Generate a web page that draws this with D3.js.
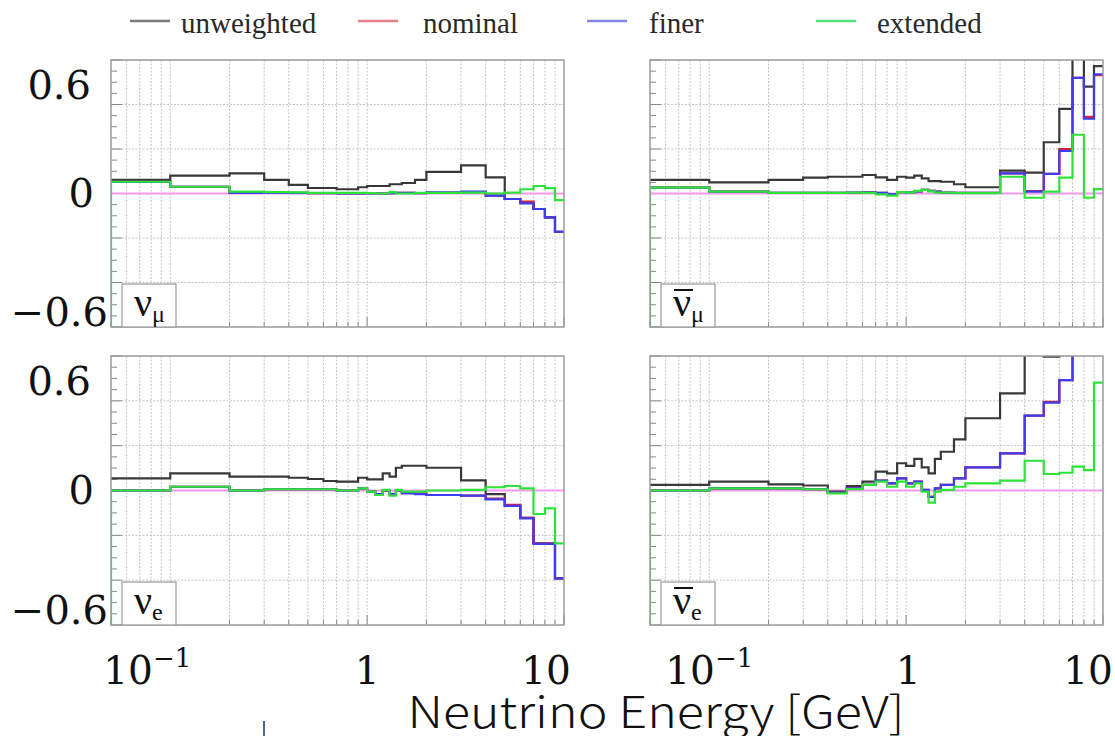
<!DOCTYPE html>
<html>
<head>
<meta charset="utf-8">
<script src="https://cdn.jsdelivr.net/npm/d3@7"></script>
<style>
body { margin: 0; background: #fff; }
</style>
</head>
<body>
<svg id="chart"></svg>
<script>
var screen = {width: 1115, height: 736};

// bin edges in GeV (shared by all histograms)
var edges = [0.05, 0.1, 0.2, 0.3, 0.4, 0.5, 0.6, 0.7, 0.8, 0.9, 1.0, 1.1, 1.2, 1.3, 1.4, 1.5, 1.75, 2.0, 3.0, 4.0, 5.0, 6.0, 7.0, 8.0, 9.0, 10.0];

var seriesNames = ["unweighted", "nominal", "finer", "extended"];
var lineColors = ["#383838", "#e0202e", "#3c3cf0", "#2fe23a"];
var legendColors = ["#7c7c7c", "#e87f8a", "#8686e2", "#57e07f"];

// numu
var numuUnweighted = [0.076, 0.100, 0.113, 0.076, 0.048, 0.031, 0.031, 0.024, 0.024, 0.035, 0.042, 0.042, 0.042, 0.052, 0.052, 0.059, 0.076, 0.121, 0.158, 0.091, -0.031, -0.050, -0.087, -0.134, -0.215];
var numuNominal    = [0.066, 0.038, 0.005, 0.003, 0.003, 0.002, 0.002, 0.001, 0.001, 0.000, 0.000, 0.000, 0.000, 0.002, 0.003, 0.003, 0.002, 0.004, 0.008, -0.012, -0.031, -0.045, -0.087, -0.134, -0.215];
var numuFiner      = [0.066, 0.038, 0.004, 0.003, 0.003, 0.002, 0.002, 0.001, 0.001, 0.000, 0.000, 0.000, 0.000, 0.002, 0.004, 0.004, 0.002, 0.006, 0.010, -0.012, -0.031, -0.055, -0.087, -0.134, -0.215];
var numuExtended   = [0.066, 0.038, 0.010, 0.008, 0.006, 0.004, 0.004, 0.003, 0.003, 0.003, 0.002, 0.000, 0.000, 0.008, 0.000, 0.000, 0.003, 0.003, 0.005, 0.000, 0.005, 0.024, 0.042, 0.030, -0.037];

// numubar
var numubarUnweighted = [0.076, 0.063, 0.076, 0.089, 0.094, 0.094, 0.104, 0.091, 0.076, 0.094, 0.089, 0.100, 0.085, 0.070, 0.070, 0.066, 0.052, 0.035, 0.128, 0.117, 0.288, 0.475, 0.900, 0.600, 0.716];
var numubarNominal    = [0.033, 0.010, 0.004, 0.003, 0.004, 0.005, 0.006, 0.004, -0.004, 0.008, 0.005, 0.012, 0.020, 0.015, 0.010, 0.005, 0.003, 0.004, 0.113, 0.014, 0.110, 0.250, 0.650, 0.430, 0.665];
var numubarFiner      = [0.033, 0.010, 0.004, 0.003, 0.004, 0.005, 0.006, 0.004, -0.004, 0.008, 0.005, 0.012, 0.020, 0.015, 0.010, 0.005, 0.003, 0.004, 0.113, 0.010, 0.110, 0.240, 0.650, 0.420, 0.670];
var numubarExtended   = [0.033, 0.010, 0.004, 0.003, 0.004, 0.005, 0.003, -0.005, -0.012, 0.008, 0.005, 0.015, 0.020, 0.012, 0.005, 0.005, 0.002, 0.002, 0.094, -0.024, 0.010, 0.089, 0.330, -0.024, 0.025];

// nue
var nueUnweighted = [0.068, 0.096, 0.077, 0.077, 0.071, 0.064, 0.053, 0.049, 0.049, 0.071, 0.062, 0.062, 0.096, 0.077, 0.127, 0.138, 0.138, 0.127, 0.056, -0.020, -0.086, -0.152, -0.295, -0.295, -0.490];
var nueNominal    = [0.000, 0.021, 0.000, 0.007, 0.007, 0.007, 0.007, 0.000, 0.000, 0.012, -0.006, -0.020, 0.000, -0.020, 0.000, -0.012, -0.016, -0.025, -0.029, -0.045, -0.080, -0.152, -0.295, -0.295, -0.490];
var nueFiner      = [0.000, 0.021, 0.000, 0.007, 0.007, 0.007, 0.007, 0.000, 0.000, 0.012, -0.006, -0.020, 0.000, -0.020, 0.000, -0.016, -0.020, -0.025, -0.029, -0.050, -0.086, -0.155, -0.298, -0.298, -0.490];
var nueExtended   = [0.000, 0.021, 0.000, 0.007, 0.007, 0.007, 0.007, 0.000, 0.000, 0.012, -0.006, -0.025, 0.004, -0.029, 0.004, -0.006, -0.006, 0.000, 0.004, 0.018, 0.025, 0.012, -0.131, -0.100, -0.295];

// nuebar
var nuebarUnweighted = [0.031, 0.049, 0.034, 0.028, -0.006, 0.025, 0.049, 0.105, 0.096, 0.152, 0.137, 0.176, 0.129, 0.096, 0.176, 0.216, 0.285, 0.403, 0.542, 0.756, 0.746, 0.900, 0.900, 0.900, 0.900];
var nuebarNominal    = [0.000, 0.012, 0.012, 0.007, -0.012, 0.012, 0.031, 0.055, 0.040, 0.068, 0.040, 0.050, 0.003, -0.035, 0.012, 0.031, 0.068, 0.129, 0.207, 0.417, 0.495, 0.616, 0.900, 0.900, 0.900];
var nuebarFiner      = [0.000, 0.012, 0.012, 0.007, -0.012, 0.012, 0.031, 0.055, 0.040, 0.068, 0.040, 0.050, 0.003, -0.035, 0.012, 0.031, 0.068, 0.129, 0.207, 0.417, 0.490, 0.616, 0.900, 0.900, 0.900];
var nuebarExtended   = [0.000, 0.012, 0.012, 0.007, -0.016, 0.008, 0.031, 0.050, 0.021, 0.050, 0.021, 0.040, -0.006, -0.068, -0.006, 0.003, 0.021, 0.040, 0.055, 0.166, 0.092, 0.099, 0.133, 0.114, 0.601];

// value drawn below the first edge (extended histograms start from the underflow)
var underflow = [null, null, null, -1];

var yTickValues = [0.6, 0, -0.6];
var yTickText = ["0.6", "0", "\u22120.6"];
var xTickValues = [0.1, 1, 10];

var panelList = [
    {flavour: "\u03bd", sub: "\u03bc", bar: false, left: 111, right: 564, top: 60, bottom: 327,
     data: [numuUnweighted, numuNominal, numuFiner, numuExtended]},
    {flavour: "\u03bd", sub: "\u03bc", bar: true, left: 650, right: 1103, top: 60, bottom: 327,
     data: [numubarUnweighted, numubarNominal, numubarFiner, numubarExtended]},
    {flavour: "\u03bd", sub: "e", bar: false, left: 111, right: 564, top: 356, bottom: 625,
     data: [nueUnweighted, nueNominal, nueFiner, nueExtended]},
    {flavour: "\u03bd", sub: "e", bar: true, left: 650, right: 1103, top: 356, bottom: 625,
     data: [nuebarUnweighted, nuebarNominal, nuebarFiner, nuebarExtended]}
];

var svg = d3.select("#chart")
    .attr("width", screen.width)
    .attr("height", screen.height)
    .style("background", "#fff");

var gridColor = "#c4c4c4";
var frameColor = "#9a9a9a";

panelList.forEach(function(p, k)
{
    var xScale = d3.scaleLog().domain([0.05, 10]).range([p.left, p.right]);
    var yScale = d3.scaleLinear().domain([-0.75, 0.75]).range([p.bottom, p.top]);

    svg.append("clipPath").attr("id", "clip" + k)
        .append("rect")
        .attr("x", p.left).attr("y", p.top)
        .attr("width", p.right - p.left).attr("height", p.bottom - p.top);

    var g = svg.append("g").attr("class", "panel");

    g.append("rect")
        .attr("x", p.left).attr("y", p.top)
        .attr("width", p.right - p.left).attr("height", p.bottom - p.top)
        .attr("fill", "#fff");

    // grid
    var xGrid = xScale.ticks().filter(function(d) { return d > 0.0500001 && d < 9.99; });
    g.selectAll(".xgrid").data(xGrid).enter().append("line")
        .attr("x1", function(d) { return xScale(d); })
        .attr("x2", function(d) { return xScale(d); })
        .attr("y1", p.top).attr("y2", p.bottom)
        .attr("stroke", gridColor).attr("stroke-width", 1)
        .attr("stroke-dasharray", "2,1.5");

    g.selectAll(".ygrid").data([-0.5, -0.25, 0.25, 0.5]).enter().append("line")
        .attr("x1", p.left).attr("x2", p.right)
        .attr("y1", function(d) { return yScale(d); })
        .attr("y2", function(d) { return yScale(d); })
        .attr("stroke", gridColor).attr("stroke-width", 1)
        .attr("stroke-dasharray", "2,1.5");

    // left ticks
    var yMinor = d3.range(-12, 13).map(function(i) { return i * 0.0625; });
    g.selectAll(".ytick").data(yMinor).enter().append("line")
        .attr("x1", p.left)
        .attr("x2", function(d, i) { return p.left + (i % 4 == 0 ? 11 : 6); })
        .attr("y1", function(d) { return yScale(d); })
        .attr("y2", function(d) { return yScale(d); })
        .attr("stroke", "#888").attr("stroke-width", 1);

    // bottom ticks
    g.selectAll(".xtick").data(xScale.ticks()).enter().append("line")
        .attr("x1", function(d) { return xScale(d); })
        .attr("x2", function(d) { return xScale(d); })
        .attr("y1", p.bottom)
        .attr("y2", function(d) { return p.bottom - (xTickValues.indexOf(d) >= 0 ? 10 : 5); })
        .attr("stroke", "#888").attr("stroke-width", 1);

    // zero reference
    g.append("line")
        .attr("x1", p.left).attr("x2", p.right)
        .attr("y1", yScale(0)).attr("y2", yScale(0))
        .attr("stroke", "#f49af0").attr("stroke-width", 2);

    var line = d3.line()
        .x(function(d) { return xScale(d[0]); })
        .y(function(d) { return yScale(d[1]); })
        .curve(d3.curveStepAfter);

    var plot = g.append("g").attr("clip-path", "url(#clip" + k + ")");

    p.data.forEach(function(values, s)
    {
        var pts = edges.map(function(e, i) {
            return [e, values[Math.min(i, values.length - 1)]];
        });
        if (underflow[s] !== null) pts.unshift([edges[0], underflow[s]]);
        plot.append("path")
            .datum(pts)
            .attr("d", line)
            .attr("fill", "none")
            .attr("stroke", lineColors[s])
            .attr("stroke-width", 2.2)
            .attr("stroke-linejoin", "miter");
    });

    // frame
    g.append("rect")
        .attr("x", p.left).attr("y", p.top)
        .attr("width", p.right - p.left).attr("height", p.bottom - p.top)
        .attr("fill", "none")
        .attr("stroke", frameColor).attr("stroke-width", 1.5);

    // flavour label box
    var bx = p.left + 11, bw = 54, bh = 43;
    g.append("rect")
        .attr("x", bx).attr("y", p.bottom - bh)
        .attr("width", bw).attr("height", bh)
        .attr("fill", "#fff")
        .attr("stroke", "#999").attr("stroke-width", 1.2);
    var lab = g.append("text")
        .attr("x", bx + 12).attr("y", p.bottom - 11)
        .attr("font-family", "Liberation Serif, serif")
        .attr("font-size", 40)
        .attr("fill", "#111")
        .text(p.flavour);
    lab.append("tspan")
        .attr("font-size", 24)
        .attr("dy", 6)
        .text(p.sub);
    if (p.bar) {
        g.append("line")
            .attr("x1", bx + 13).attr("x2", bx + 32)
            .attr("y1", p.bottom - 37).attr("y2", p.bottom - 37)
            .attr("stroke", "#111").attr("stroke-width", 2);
    }

    // y tick labels on the left column
    if (p.left < 300) {
        var yShift = [12, 13, 26];
        var xRight = [91, 94, 108];
        yTickValues.forEach(function(v, i) {
            svg.append("text")
                .attr("x", xRight[i])
                .attr("y", yScale(v) + yShift[i])
                .attr("text-anchor", "end")
                .attr("font-family", "DejaVu Serif, serif")
                .attr("font-size", 40)
                .attr("fill", "#111")
                .text(yTickText[i]);
        });
    }

    // x tick labels on the bottom row
    if (p.top > 300) {
        var xShift = p.left < 300 ? [-23, 0, -18] : [0, 2, -15];
        xTickValues.forEach(function(v, i) {
            var t = svg.append("text")
                .attr("x", xScale(v) + xShift[i])
                .attr("y", 684)
                .attr("text-anchor", "middle")
                .attr("font-family", "DejaVu Serif, serif")
                .attr("font-size", 39)
                .attr("fill", "#111");
            if (v < 1) {
                t.append("tspan").text("10");
                t.append("tspan").attr("font-size", 26).attr("dy", -17).text("\u22121");
            } else {
                t.text(String(v));
            }
        });
    }
});

// legend
var legendLineX = [130, 358, 587, 816];
var legendTextX = [181, 423, 649, 877];
var legend = svg.append("g").attr("class", "legend");
seriesNames.forEach(function(name, i)
{
    legend.append("line")
        .attr("x1", legendLineX[i]).attr("x2", legendLineX[i] + 40)
        .attr("y1", 21).attr("y2", 21)
        .attr("stroke", legendColors[i]).attr("stroke-width", 2.5);
    legend.append("text")
        .attr("x", legendTextX[i]).attr("y", 33)
        .attr("font-family", "Liberation Serif, serif")
        .attr("font-size", 29)
        .attr("fill", "#2a2a2a")
        .text(name);
});

// axis title
svg.append("text")
    .attr("x", 656).attr("y", 728)
    .attr("text-anchor", "middle")
    .attr("font-family", "Noto Sans CJK JP, Noto Sans, sans-serif")
    .attr("font-weight", 300)
    .attr("font-size", 44)
    .attr("textLength", 497)
    .attr("lengthAdjust", "spacingAndGlyphs")
    .attr("fill", "#111")
    .text("Neutrino Energy [GeV]");

// small stray mark under the left column
svg.append("line")
    .attr("x1", 264).attr("x2", 264)
    .attr("y1", 721).attr("y2", 736)
    .attr("stroke", "#1d2b6e").attr("stroke-width", 1.5);
</script>
</body>
</html>
